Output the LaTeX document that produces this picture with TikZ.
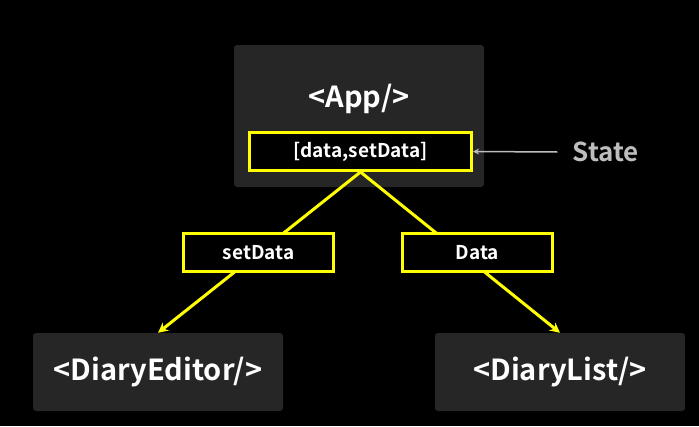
\documentclass[tikz,border=0pt]{standalone}
\usepackage{xcolor}
\usepackage{fontspec}
\setmainfont{Noto Sans CJK KR}[BoldFont={Noto Sans CJK KR Bold}]
\usepackage{tikz}
\usetikzlibrary{positioning,calc,arrows.meta}
\definecolor{boxgray}{HTML}{262626}
\definecolor{hiyellow}{HTML}{FFFF00}
\definecolor{stategray}{HTML}{BDBDBD}
\tikzset{
  compbox/.style={fill=boxgray, rounded corners=3pt, text=white, font=\bfseries\fontsize{29}{31}\selectfont},
  propbox/.style={draw=hiyellow, line width=3pt, fill=black, text=white, font=\bfseries\fontsize{19}{21}\selectfont},
  flow/.style={hiyellow, line width=3pt, -{Stealth[length=10pt,width=10pt]}}
}
\begin{document}
\begin{tikzpicture}[x=1pt, y=-1pt]
        \fill[black] (0,0) rectangle (699,426);
        \useasboundingbox (0,0) rectangle (699,426);
        % components
        \node[compbox, minimum width=250pt, minimum height=142pt] (app) at (359,116) {};
        \node[text=white, font=\bfseries\fontsize{29}{31}\selectfont] (apptxt) at (359,99) {<App/>};
        \node[propbox, minimum width=222pt, minimum height=38pt] (state) at (360.5,151.5) {[data,setData]};
        \node[compbox, minimum width=250pt, minimum height=78pt] (editor) at (158,372) {<DiaryEditor/>};
        \node[compbox, minimum width=250pt, minimum height=78pt] (list) at (560,372) {<DiaryList/>};
        % state hook
        \node[text=stategray, font=\bfseries\fontsize{26}{28}\selectfont] (statelbl) at (606,152) {State};
        \draw[stategray, line width=1.5pt, -{Stealth[length=6pt,width=6pt]}] (statelbl.west) ++(-12,0) -- (state.east);
        % props
        \draw[flow] (state.south) -- (editor.north);
        \draw[flow] (state.south) -- (list.north);
        \node[propbox, minimum width=150pt, minimum height=38pt] (setter) at (258.5,252.5) {setData};
        \node[propbox, minimum width=150pt, minimum height=38pt] (getter) at (477.5,252.5) {Data};
    \end{tikzpicture}
\end{document}
